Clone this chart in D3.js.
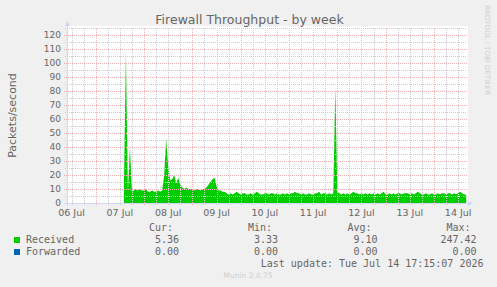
<!DOCTYPE html>
<html>
<head>
<meta charset="utf-8">
<script src="https://cdn.jsdelivr.net/npm/d3@7/dist/d3.min.js"></script>
<style>
  body { margin: 0; background: #f0f0f0; }
  svg { display: block; font-family: "DejaVu Sans", sans-serif; }
</style>
</head>
<body>
<svg id="chart" width="497" height="287"></svg>
<script>
// hourly samples, first one at 07 Jul 14:00
const sampleStart = Date.UTC(2026, 6, 7, 14);
const received = [
  11, 108, 8, 40, 8, 9, 10, 9, 10, 9, 9, 10, 8, 8, 9, 8, 8, 9, 8, 9,
  20, 46, 26, 16, 17, 20, 14, 18, 13, 11, 10, 11, 10, 10, 10, 9, 10, 10, 9, 10,
  10, 11, 13, 15, 17, 18, 12, 9, 9, 8, 8, 7, 6, 7, 6, 7, 8, 7, 6, 7,
  7, 6, 6, 7, 6, 7, 8, 7, 6, 6, 7, 7, 6, 7, 7, 6, 7, 6, 6, 7,
  6, 7, 6, 7, 7, 8, 7, 7, 6, 7, 6, 6, 7, 6, 6, 7, 7, 8, 6, 7,
  7, 6, 7, 6, 7, 83, 8, 7, 6, 7, 6, 7, 6, 7, 8, 7, 7, 6, 7, 6,
  7, 6, 7, 6, 7, 6, 7, 6, 7, 8, 6, 6, 7, 6, 7, 6, 7, 7, 6, 7,
  7, 7, 6, 7, 6, 7, 8, 7, 6, 6, 7, 6, 6, 7, 6, 6, 7, 6, 7, 7,
  6, 7, 7, 6, 7, 6, 7, 8, 7, 6, 6
];
// forwarded stayed at zero over the same span (first and last sample)
const forwarded = [0, 0];

const yTicks = [0, 10, 20, 30, 40, 50, 60, 70, 80, 90, 100, 110, 120];
const yMinor = [5, 15, 25, 35, 45, 55, 65, 75, 85, 95, 105, 115, 125];

const seriesNames = ["Received", "Forwarded"];
const seriesColors = ["#00cc00", "#0066b3"];
const curValues = ["5.36", "0.00"];
const minValues = ["3.33", "0.00"];
const avgValues = ["9.10", "0.00"];
const maxValues = ["247.42", "0.00"];

const title = "Firewall Throughput - by week";
const yLabel = "Packets/second";
const lastUpdate = "Last update: Tue Jul 14 17:15:07 2026";

const svg = d3.select("#chart");
const canvas = { left: 67, right: 467, top: 28, bottom: 203 };

const xScale = d3.scaleUtc()
  .domain([new Date(Date.UTC(2026, 6, 6, 9, 45)), new Date(Date.UTC(2026, 6, 14, 16, 24))])
  .range([canvas.left, canvas.right]);
const yScale = d3.scaleLinear().domain([0, 125]).range([canvas.bottom, canvas.top]);

const HOUR = 3600 * 1000;
const tOf = i => new Date(sampleStart + i * HOUR);

// white plot canvas
svg.append("rect")
  .attr("x", canvas.left).attr("y", 26)
  .attr("width", canvas.right - canvas.left + 1).attr("height", canvas.bottom - 26)
  .attr("fill", "#ffffff");

// data
let area = d3.area()
  .x((d, i) => xScale(tOf(i)))
  .y0(yScale(0))
  .y1(d => yScale(d));

svg.append("path")
  .datum(received)
  .attr("d", area)
  .attr("fill", seriesColors[0]);

svg.append("path")
  .datum(forwarded)
  .attr("d", d3.area()
    .x((d, i) => xScale(tOf(i * (received.length - 1))))
    .y0(yScale(0))
    .y1(d => yScale(d)))
  .attr("fill", seriesColors[1]);

// grid on top, rrdtool style
let grid = svg.append("g").attr("shape-rendering", "crispEdges");
let [t0, t1] = xScale.domain();
let minorColor = "#cccccc";
let majorColor = "#f2b0b0";

let minorHours = d3.utcHour.every(6).range(t0, t1).filter(d => d.getUTCHours() !== 0);
grid.selectAll(".vminor")
  .data(minorHours)
  .join("line")
  .attr("x1", d => Math.round(xScale(d)) + 0.5)
  .attr("x2", d => Math.round(xScale(d)) + 0.5)
  .attr("y1", canvas.top)
  .attr("y2", canvas.bottom + 2)
  .attr("stroke", minorColor)
  .attr("stroke-dasharray", "1,1");

grid.selectAll(".hminor")
  .data(yMinor)
  .join("line")
  .attr("x1", canvas.left - 2)
  .attr("x2", canvas.right)
  .attr("y1", d => Math.round(yScale(d)) + 0.5)
  .attr("y2", d => Math.round(yScale(d)) + 0.5)
  .attr("stroke", minorColor)
  .attr("stroke-dasharray", "1,1");

let days = d3.utcDay.range(t0, t1);
grid.selectAll(".vmajor")
  .data(days)
  .join("line")
  .attr("x1", d => Math.round(xScale(d)) + 0.5)
  .attr("x2", d => Math.round(xScale(d)) + 0.5)
  .attr("y1", canvas.top)
  .attr("y2", canvas.bottom + 3)
  .attr("stroke", majorColor)
  .attr("stroke-dasharray", "1,1");

grid.selectAll(".hmajor")
  .data(yTicks.filter(d => d > 0))
  .join("line")
  .attr("x1", canvas.left - 3)
  .attr("x2", canvas.right)
  .attr("y1", d => Math.round(yScale(d)) + 0.5)
  .attr("y2", d => Math.round(yScale(d)) + 0.5)
  .attr("stroke", majorColor)
  .attr("stroke-dasharray", "1,1");

// axes with arrows
let axisColor = "#cfd6f8";
grid.append("line")
  .attr("x1", canvas.left + 0.5).attr("x2", canvas.left + 0.5)
  .attr("y1", canvas.bottom + 3).attr("y2", 24)
  .attr("stroke", axisColor);
grid.append("line")
  .attr("x1", canvas.left - 3).attr("x2", canvas.right + 3)
  .attr("y1", canvas.bottom + 0.5).attr("y2", canvas.bottom + 0.5)
  .attr("stroke", axisColor);
svg.append("path")
  .attr("d", `M${canvas.left - 2},26 L${canvas.left + 3},26 L${canvas.left + 0.5},21 Z`)
  .attr("fill", axisColor);
svg.append("path")
  .attr("d", `M${canvas.right + 1},${canvas.bottom - 2} L${canvas.right + 1},${canvas.bottom + 3} L${canvas.right + 6},${canvas.bottom + 0.5} Z`)
  .attr("fill", axisColor);

// tick labels
svg.append("g")
  .selectAll("text")
  .data(yTicks)
  .join("text")
  .attr("x", 61)
  .attr("y", d => yScale(d) + 3.3)
  .attr("text-anchor", "end")
  .attr("font-size", "9px")
  .attr("fill", "#666")
  .text(d => d);

let fmtDay = d3.utcFormat("%d %b");
svg.append("g")
  .selectAll("text")
  .data(d3.utcDay.range(d3.utcDay.floor(t0), t1).map(d => d3.utcHour.offset(d, 12)).filter(d => d >= t0 && d <= t1))
  .join("text")
  .attr("x", d => xScale(d))
  .attr("y", 215.5)
  .attr("text-anchor", "middle")
  .attr("font-size", "9.5px")
  .attr("fill", "#666")
  .text(d => fmtDay(d));

// title and labels
svg.append("text")
  .attr("x", 249.5).attr("y", 24)
  .attr("text-anchor", "middle")
  .attr("font-size", "12.5px")
  .attr("fill", "#666")
  .text(title);

svg.append("text")
  .attr("transform", "translate(15.5,115.5) rotate(-90)")
  .attr("text-anchor", "middle")
  .attr("font-size", "11px")
  .attr("fill", "#666")
  .text(yLabel);

svg.append("text")
  .attr("transform", "translate(485,5) rotate(90)")
  .attr("font-size", "7px")
  .attr("fill", "#cfcfcf")
  .text("RRDTOOL / TOBI OETIKER");

svg.append("text")
  .attr("x", 248).attr("y", 278)
  .attr("text-anchor", "middle")
  .attr("font-size", "7.5px")
  .attr("fill", "#cfcfcf")
  .text("Munin 2.0.75");

// legend
let legend = svg.append("g")
  .attr("font-family", "'DejaVu Sans Mono', monospace")
  .attr("font-size", "10px")
  .attr("fill", "#666");

let cols = [
  { head: "Cur:", vals: curValues, right: 179 },
  { head: "Min:", vals: minValues, right: 278 },
  { head: "Avg:", vals: avgValues, right: 377.5 },
  { head: "Max:", vals: maxValues, right: 476.5 }
];

for (let c of cols) {
  legend.append("text")
    .attr("x", c.right - 6).attr("y", 231)
    .attr("text-anchor", "end")
    .text(c.head);
  legend.selectAll(null)
    .data(c.vals)
    .join("text")
    .attr("x", c.right)
    .attr("y", (d, i) => 243 + i * 12)
    .attr("text-anchor", "end")
    .text(d => d);
}

legend.selectAll(".swatch")
  .data(seriesNames)
  .join("rect")
  .attr("x", 14)
  .attr("y", (d, i) => 237 + i * 12)
  .attr("width", 6).attr("height", 6)
  .attr("fill", (d, i) => seriesColors[i]);

legend.selectAll(".name")
  .data(seriesNames)
  .join("text")
  .attr("x", 26)
  .attr("y", (d, i) => 243 + i * 12)
  .text(d => d);

legend.append("text")
  .attr("x", 483.5).attr("y", 267)
  .attr("text-anchor", "end")
  .text(lastUpdate);
</script>
</body>
</html>
